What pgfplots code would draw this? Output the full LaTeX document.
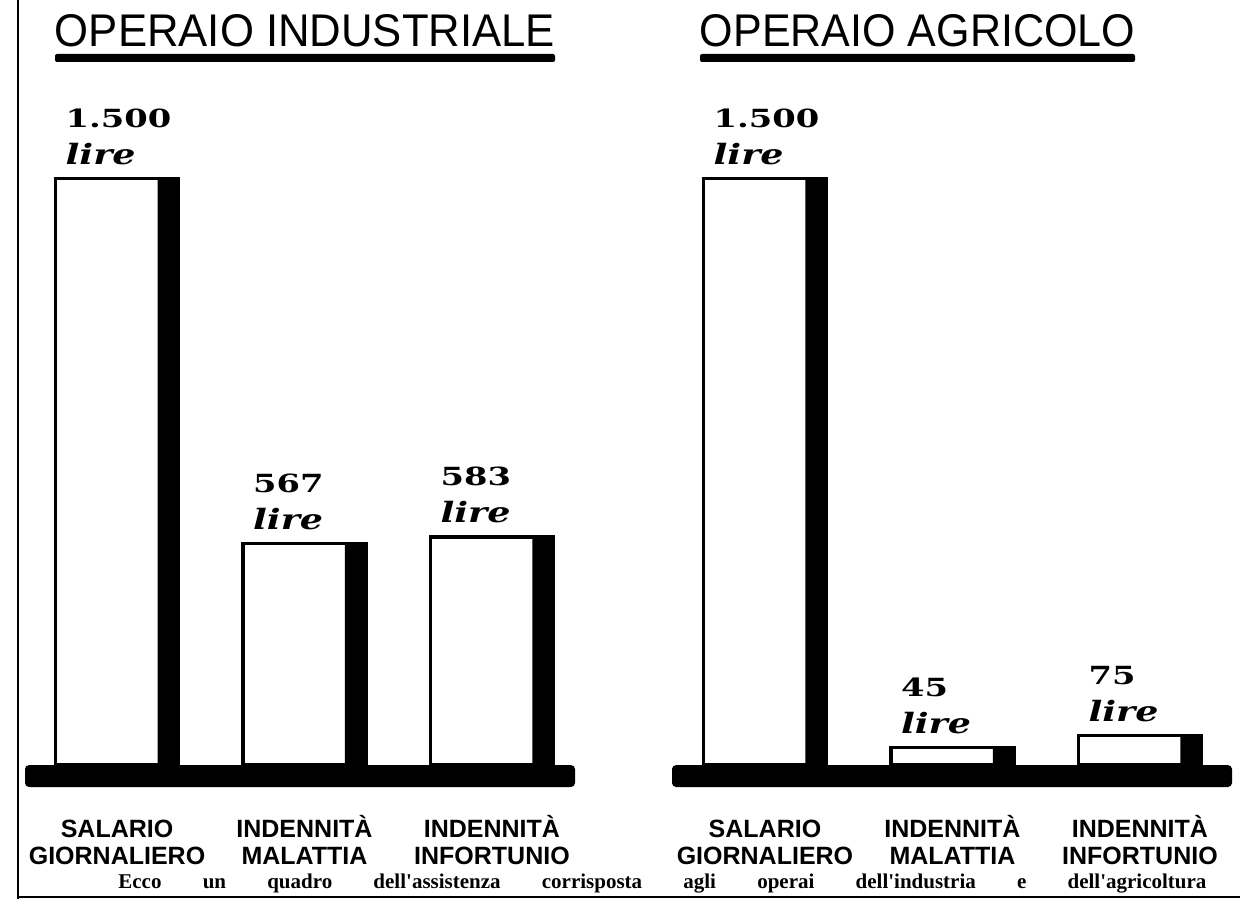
\documentclass[border=0pt]{standalone}
\usepackage{pgfplots}
\pgfplotsset{compat=1.18}
\usepackage{pgfplotstable}
\usepackage{graphicx}
\usepackage{fontspec}
\setmainfont{Liberation Sans}
\newfontfamily\titlefont{Liberation Sans}
\newfontfamily\numfont{DejaVu Serif}
\newfontfamily\capfont{Liberation Serif}

\pgfplotstableread{
x y lab
0 1500 1.500
1 567 567
2 583 583
}\industria
\pgfplotstableread{
x y lab
0 1500 1.500
1 45 45
2 75 75
}\agricoltura

\newcommand{\vallabel}[1]{\scalebox{1.35}[1]{\numfont\bfseries\fontsize{12.5}{15}\selectfont #1}\\\scalebox{1.3}[1]{\numfont\bfseries\itshape\fontsize{14}{15}\selectfont lire}}

\pgfplotsset{
  panel/.style={
    scale only axis, clip=false,
    ymin=-56, ymax=1600,
    height=324pt,
    axis line style={draw=none},
    ytick=\empty,
    xtick={0,1,2},
    xtick style={draw=none},
    major tick length=0pt,
    xticklabels={\vphantom{À}SALARIO\\GIORNALIERO, INDENNITÀ\\MALATTIA, INDENNITÀ\\INFORTUNIO},
    xticklabel style={align=center, yshift=-10.5pt, font=\bfseries\fontsize{12.5}{13.5}\selectfont},
    every node near coord/.append style={anchor=south west, xshift=-26.5pt, yshift=6pt, align=left, inner sep=0pt, text=black, font=\fontsize{12}{18.5}\selectfont},
  },
  whitebar/.style={ybar, bar width=0.656, bar shift=0, fill=white, draw=black, line width=1.6pt,
    nodes near coords={\vallabel{\pgfplotspointmeta}}, point meta=explicit symbolic},
  blackbar/.style={ybar, bar width=0.112, bar shift=0.272, fill=black, draw=none},
}

\begin{document}
\begin{tikzpicture}
\useasboundingbox (0,0) rectangle (627pt,455.5pt);
% frame
\draw[line width=0.8pt] (9pt,6pt) -- (9pt,455.5pt);
\draw[line width=0.8pt] (9pt,7pt) -- (620pt,7pt);

% titles
\node[anchor=base, inner sep=0pt] at (152.5pt,432pt) {\resizebox{250pt}{16pt}{\titlefont OPERAIO INDUSTRIALE}};
\fill[black, rounded corners=1pt] (27.5pt,424.5pt) rectangle (277.5pt,428.5pt);
\node[anchor=base, inner sep=0pt] at (458.75pt,432pt) {\resizebox{217.5pt}{16pt}{\titlefont OPERAIO AGRICOLO}};
\fill[black, rounded corners=1pt] (350pt,424.5pt) rectangle (567.5pt,428.5pt);

\begin{axis}[panel, at={(12.5pt,62pt)}, anchor=south west, width=275pt,
  xmin=-0.491, xmax=2.443]
  \addplot[whitebar] table[x=x, y=y, meta=lab] {\industria};
  \addplot[blackbar] table[x=x, y=y] {\industria};
  \fill[black, rounded corners=2pt] (rel axis cs:0,0) rectangle ({rel axis cs:1,0} |- {axis cs:0,0});
\end{axis}

\begin{axis}[panel, at={(336pt,62pt)}, anchor=south west, width=280pt,
  xmin=-0.496, xmax=2.491]
  \addplot[whitebar] table[x=x, y=y, meta=lab] {\agricoltura};
  \addplot[blackbar] table[x=x, y=y] {\agricoltura};
  \fill[black, rounded corners=2pt] (rel axis cs:0,0) rectangle ({rel axis cs:1,0} |- {axis cs:0,0});
\end{axis}

% caption
\node[anchor=base west, inner sep=0pt] at (59pt,11pt) {\makebox[544pt][s]{\capfont\bfseries\fontsize{10.5}{12}\selectfont Ecco un quadro dell'assistenza corrisposta agli operai dell'industria e dell'agricoltura}};
\end{tikzpicture}
\end{document}
